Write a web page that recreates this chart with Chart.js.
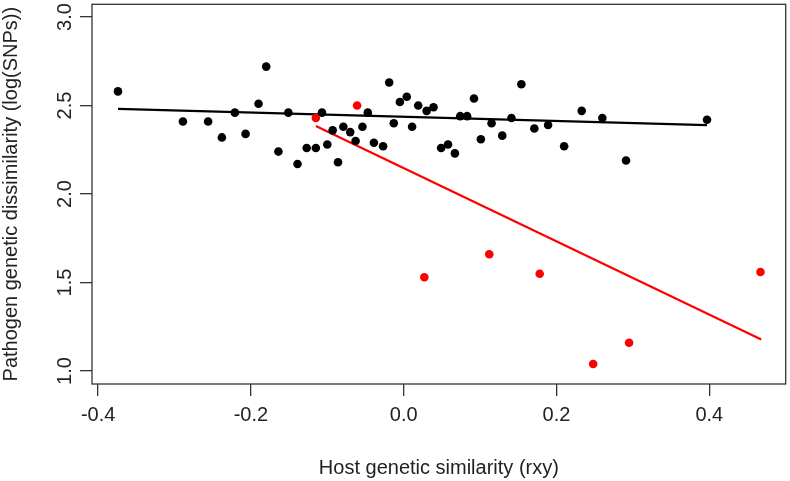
<!DOCTYPE html>
<html>
<head>
<meta charset="utf-8">
<script src="https://cdn.jsdelivr.net/npm/chart.js@4.4.1/dist/chart.umd.min.js"></script>
<style>
  html, body { margin: 0; padding: 0; background: #fff; }
</style>
</head>
<body>
<canvas id="plot" width="790" height="481"></canvas>
<script>
// black points (host pairs)
var blackX = [-0.374, -0.289, -0.256, -0.238, -0.221, -0.207, -0.190, -0.180, -0.151, -0.164,
  -0.139, -0.107, -0.127, -0.115, -0.100, -0.093, -0.086, -0.079, -0.070, -0.063,
  -0.054, -0.047, -0.039, -0.027, -0.019, -0.013, -0.005, 0.004, 0.011, 0.019,
  0.030, 0.039, 0.049, 0.058, 0.067, 0.074, 0.083, 0.092, 0.101, 0.115,
  0.129, 0.141, 0.154, 0.171, 0.189, 0.210, 0.233, 0.260, 0.291, 0.397];
var blackY = [2.58, 2.41, 2.41, 2.32, 2.46, 2.34, 2.51, 2.72, 2.46, 2.24,
  2.17, 2.46, 2.26, 2.26, 2.28, 2.36, 2.18, 2.38, 2.35, 2.30,
  2.38, 2.46, 2.29, 2.27, 2.63, 2.40, 2.52, 2.55, 2.38, 2.50,
  2.47, 2.49, 2.26, 2.28, 2.23, 2.44, 2.44, 2.54, 2.31, 2.40,
  2.33, 2.43, 2.62, 2.37, 2.39, 2.27, 2.47, 2.43, 2.19, 2.42];

// red points
var redX = [-0.115, -0.061, 0.027, 0.112, 0.178, 0.248, 0.295, 0.467];
var redY = [2.43, 2.50, 1.53, 1.66, 1.55, 1.04, 1.16, 1.56];

// fitted lines (end points)
var blackFitX = [-0.374, 0.397];
var blackFitY = [2.481, 2.390];
var redFitX = [-0.115, 0.468];
var redFitY = [2.384, 1.178];

var xTicks = [-0.4, -0.2, 0.0, 0.2, 0.4];
var yTicks = [1.0, 1.5, 2.0, 2.5, 3.0];

function pts(xs, ys) {
  return xs.map(function (x, i) { return { x: x, y: ys[i] }; });
}

var font = 'Liberation Sans, Arial, sans-serif';
var axisCol = '#333333';

// box around the plot region, like R's bty="o"
var boxPlugin = {
  id: 'box',
  afterDraw: function (chart) {
    var a = chart.chartArea, c = chart.ctx;
    c.save();
    c.strokeStyle = axisCol;
    c.lineWidth = 1.3;
    c.strokeRect(a.left, a.top, a.right - a.left, a.bottom - a.top);
    c.restore();
  }
};

var ctx = document.getElementById('plot').getContext('2d');
var chart = new Chart(ctx, {
  type: 'scatter',
  data: {
    datasets: [{
      data: pts(blackX, blackY),
      backgroundColor: '#000000',
      pointRadius: 4.3,
      pointBorderWidth: 0,
      order: 0
    }, {
      data: pts(redX, redY),
      backgroundColor: '#ff0000',
      pointRadius: 4.3,
      pointBorderWidth: 0,
      order: 0
    }, {
      data: pts(blackFitX, blackFitY),
      showLine: true,
      borderColor: '#000000',
      borderWidth: 2.3,
      pointRadius: 0,
      order: 1
    }, {
      data: pts(redFitX, redFitY),
      showLine: true,
      borderColor: '#ff0000',
      borderWidth: 2.2,
      pointRadius: 0,
      order: 1
    }]
  },
  options: {
    responsive: false,
    animation: false,
    layout: { padding: { top: 2, right: 3, left: 0, bottom: 0 } },
    plugins: { legend: { display: false }, tooltip: { enabled: false } },
    scales: {
      x: {
        type: 'linear',
        min: -0.408,
        max: 0.500,
        afterBuildTicks: function (s) { s.ticks = xTicks.map(function (v) { return { value: v }; }); },
        afterFit: function (s) { s.height = 97; s.paddingLeft = 0; s.paddingRight = 0; },
        border: { display: false },
        grid: { drawOnChartArea: false, drawTicks: true, tickLength: 12, color: axisCol, lineWidth: 1.3 },
        ticks: {
          color: '#222',
          padding: 7,
          maxRotation: 0,
          font: { family: font, size: 20 },
          callback: function (v) { return v.toFixed(1); }
        },
        title: {
          display: true,
          text: 'Host genetic similarity (rxy)',
          color: '#222',
          font: { family: font, size: 20, lineHeight: 1.2 },
          padding: { top: 0, bottom: 1 }
        }
      },
      y: {
        type: 'linear',
        min: 0.927,
        max: 3.072,
        afterBuildTicks: function (s) { s.ticks = yTicks.map(function (v) { return { value: v }; }); },
        afterFit: function (s) { s.width = 92; s.paddingTop = 0; s.paddingBottom = 0; },
        border: { display: false },
        grid: { drawOnChartArea: false, drawTicks: true, tickLength: 12, color: axisCol, lineWidth: 1.3 },
        ticks: {
          color: '#222',
          padding: 1,
          minRotation: 90,
          maxRotation: 90,
          crossAlign: 'center',
          font: { family: font, size: 20 },
          callback: function (v) { return v.toFixed(1); }
        },
        title: {
          display: true,
          text: 'Pathogen genetic dissimilarity (log(SNPs))',
          color: '#222',
          font: { family: font, size: 20, lineHeight: 1.1 },
          padding: { top: 0, bottom: 0 }
        }
      }
    }
  },
  plugins: [boxPlugin]
});
</script>
</body>
</html>
